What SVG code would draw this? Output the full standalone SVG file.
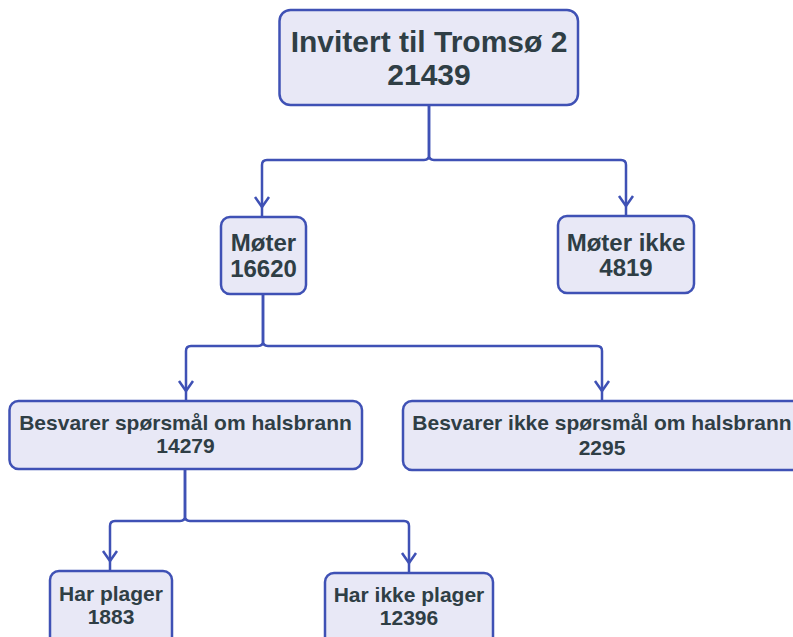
<svg xmlns="http://www.w3.org/2000/svg" width="793" height="637" viewBox="0 0 793 637">
<style>
.box{fill:#e8e8f6;stroke:#3f51b5;stroke-width:2.5}
.t{font-family:Arial,"Liberation Sans",Arimo,Helvetica,sans-serif;font-weight:700;fill:#2f3e45;text-anchor:middle}
.c{fill:none;stroke:#3f51b5;stroke-width:2.5;marker-end:url(#arr)}
</style>
<defs>
<marker id="arr" markerUnits="userSpaceOnUse" orient="auto" refX="9" refY="0" markerWidth="20" markerHeight="20" overflow="visible">
<path d="M-10,-7 L0,0 L-10,7" fill="none" stroke="#3f51b5" stroke-width="2.5" stroke-linejoin="miter"/>
</marker>
</defs>
<rect width="793" height="637" fill="#ffffff"/>
<g id="connectors">
<path class="c" d="M429 105 V155 Q429 160 424 160 H267 Q262 160 262 165 V216"/>
<path class="c" d="M429 105 V155 Q429 160 434 160 H621 Q626 160 626 165 V215"/>
<path class="c" d="M263 294 V341 Q263 346 258 346 H191 Q186 346 186 351 V400"/>
<path class="c" d="M263 294 V341 Q263 346 268 346 H597 Q602 346 602 351 V400"/>
<path class="c" d="M185 469 V516 Q185 521 180 521 H115 Q110 521 110 526 V570"/>
<path class="c" d="M185 469 V516 Q185 521 190 521 H404 Q409 521 409 526 V572"/>
</g>
<g id="n-top">
<rect class="box" x="279.5" y="10" width="298.5" height="95" rx="11" stroke-width="3"/>
<text class="t" x="429" y="52" font-size="30">Invitert til Tromsø 2</text>
<text class="t" x="429" y="85" font-size="30">21439</text>
</g>
<g id="n-moter">
<rect class="box" x="221" y="217" width="85" height="77" rx="9"/>
<text class="t" x="263.5" y="251" font-size="24">Møter</text>
<text class="t" x="263.5" y="277" font-size="24">16620</text>
</g>
<g id="n-moter-ikke">
<rect class="box" x="558" y="216" width="136" height="77" rx="9"/>
<text class="t" x="626" y="251" font-size="24">Møter ikke</text>
<text class="t" x="626" y="276" font-size="24">4819</text>
</g>
<g id="n-besvarer">
<rect class="box" x="9.5" y="401" width="352.5" height="68" rx="9"/>
<text class="t" x="185.5" y="430" font-size="21">Besvarer spørsmål om halsbrann</text>
<text class="t" x="185.5" y="453" font-size="21">14279</text>
</g>
<g id="n-besvarer-ikke">
<rect class="box" x="403" y="401" width="398" height="69" rx="9"/>
<text class="t" x="602" y="430" font-size="21">Besvarer ikke spørsmål om halsbrann</text>
<text class="t" x="602" y="455" font-size="21">2295</text>
</g>
<g id="n-har-plager">
<rect class="box" x="50" y="571" width="122" height="80" rx="9"/>
<text class="t" x="111" y="601" font-size="21">Har plager</text>
<text class="t" x="111" y="624" font-size="21">1883</text>
</g>
<g id="n-har-ikke-plager">
<rect class="box" x="325" y="573" width="168" height="80" rx="9"/>
<text class="t" x="409" y="602" font-size="21">Har ikke plager</text>
<text class="t" x="409" y="625" font-size="21">12396</text>
</g>
</svg>
